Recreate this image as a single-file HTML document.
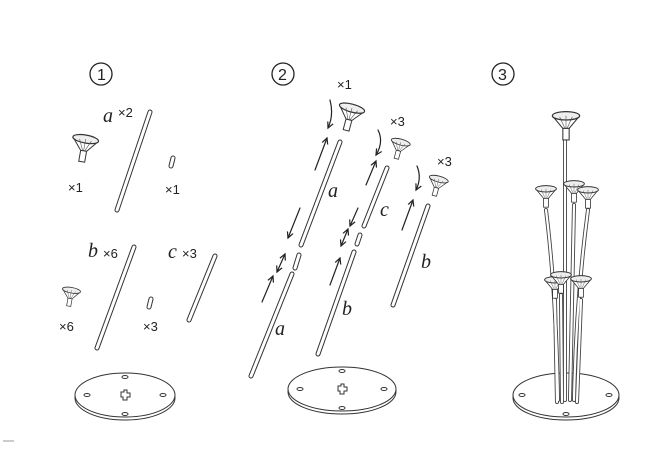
<!DOCTYPE html>
<html><head><meta charset="utf-8"><style>
html,body{margin:0;padding:0;background:#fff}
svg{display:block}
text{font-family:"Liberation Sans",sans-serif;fill:#222}
.h{font-family:"Liberation Serif",serif;font-style:italic;font-size:20px}
.x{font-size:13px}
</style></head><body>
<svg width="664" height="464" viewBox="0 0 664 464" xmlns="http://www.w3.org/2000/svg">
<defs>
<g id="cup">
<path d="M-13,-4 L-3,8 L3,8 L13,-4" fill="#fff" stroke="#333" stroke-width="1"/>
<ellipse cx="0" cy="-4" rx="13" ry="4" fill="#eee" stroke="#333" stroke-width="1.2"/>
<line x1="0" y1="-4" x2="0" y2="8" stroke="#555" stroke-width="0.6"/>
<line x1="-6" y1="-3" x2="-1" y2="8" stroke="#555" stroke-width="0.6"/>
<line x1="6" y1="-3" x2="1" y2="8" stroke="#555" stroke-width="0.6"/>
<rect x="-3" y="8" width="6" height="11" fill="#fff" stroke="#333" stroke-width="1"/>
</g>
<marker id="ar" markerWidth="8" markerHeight="8" refX="6" refY="4" orient="auto" markerUnits="userSpaceOnUse"><path d="M0,1 L6,4 L0,7" fill="none" stroke="#222" stroke-width="1.2"/></marker>
<marker id="as" markerWidth="8" markerHeight="8" refX="2" refY="4" orient="auto" markerUnits="userSpaceOnUse"><path d="M8,1 L2,4 L8,7" fill="none" stroke="#222" stroke-width="1.2"/></marker>
</defs>
<g fill="none" stroke-linecap="round">
<g stroke="#333" stroke-width="5">
<path d="M150,112 L117,210"/><path d="M173,158 L171,166"/>
<path d="M134,247 L97,348"/><path d="M215,256 L189,320"/><path d="M151,299 L149,307"/>
<path d="M340,142 L301,245"/><path d="M299,255 L295,268"/><path d="M292,274 L251,376"/>
<path d="M387,168 L364,226"/><path d="M360,235 L357,244"/><path d="M354,252 L318,354"/>
<path d="M428,206 L393,305"/>
</g>
<g stroke="#fff" stroke-width="3">
<path d="M150,112 L117,210"/><path d="M173,158 L171,166"/>
<path d="M134,247 L97,348"/><path d="M215,256 L189,320"/><path d="M151,299 L149,307"/>
<path d="M340,142 L301,245"/><path d="M299,255 L295,268"/><path d="M292,274 L251,376"/>
<path d="M387,168 L364,226"/><path d="M360,235 L357,244"/><path d="M354,252 L318,354"/>
<path d="M428,206 L393,305"/>
</g>
<g stroke="#222" stroke-width="1.3">
<circle cx="101" cy="74" r="11"/><circle cx="283" cy="74" r="11"/><circle cx="503" cy="74" r="11"/>
</g>
<g stroke="#222" stroke-width="1.2">
<path d="M330,100 Q334,115 328,128" marker-end="url(#ar)"/>
<path d="M315,170 L327,138" marker-end="url(#ar)"/>
<path d="M300,208 L288,238" marker-end="url(#ar)"/>
<path d="M285,254 L277,272" marker-start="url(#as)" marker-end="url(#ar)"/>
<path d="M262,302 L273,276" marker-end="url(#ar)"/>
<path d="M378,130 Q384,142 376,155" marker-end="url(#ar)"/>
<path d="M366,185 L376,161" marker-end="url(#ar)"/>
<path d="M358,208 L350,226" marker-end="url(#ar)"/>
<path d="M348,229 L341,246" marker-start="url(#as)" marker-end="url(#ar)"/>
<path d="M330,285 L340,258" marker-end="url(#ar)"/>
<path d="M417,166 Q422,178 416,190" marker-end="url(#ar)"/>
<path d="M402,230 L413,200" marker-end="url(#ar)"/>
</g>
<g stroke="#333" stroke-width="1">
<ellipse cx="125" cy="398" rx="50" ry="22" fill="#fff"/><ellipse cx="125" cy="395" rx="50" ry="22" fill="#fff"/>
<ellipse cx="342" cy="392" rx="54" ry="22" fill="#fff"/><ellipse cx="342" cy="389" rx="54" ry="22" fill="#fff"/>
<ellipse cx="566" cy="398" rx="53" ry="22" fill="#fff"/><ellipse cx="566" cy="395" rx="53" ry="22" fill="#fff"/>
<ellipse cx="125" cy="377" rx="3" ry="1.5"/><ellipse cx="125" cy="414" rx="3" ry="1.5"/><ellipse cx="87" cy="395" rx="3" ry="1.5"/><ellipse cx="163" cy="395" rx="3" ry="1.5"/>
<path d="M121,392 h3 v-2 h3 v3 h3 v4 h-3 v3 h-4 v-3 h-2z"/>
<ellipse cx="342" cy="371" rx="3" ry="1.5"/><ellipse cx="342" cy="408" rx="3" ry="1.5"/><ellipse cx="300" cy="389" rx="3" ry="1.5"/><ellipse cx="384" cy="389" rx="3" ry="1.5"/>
<path d="M338,386 h3 v-2 h3 v3 h3 v4 h-3 v3 h-4 v-3 h-2z"/>
<ellipse cx="522" cy="395" rx="3" ry="1.5"/><ellipse cx="609" cy="395" rx="3" ry="1.5"/><ellipse cx="566" cy="414" rx="3" ry="1.5"/>
</g>
<g stroke="#444" stroke-width="4">
<path d="M565,135 L565,400"/>
<path d="M546,210 Q556,290 558,400"/><path d="M574,205 L570,400"/><path d="M588,210 Q576,300 574,400"/>
<path d="M555,300 L557,402"/><path d="M581,300 L577,402"/><path d="M561,295 L562,402"/>
</g>
<g stroke="#fff" stroke-width="2.2">
<path d="M565,135 L565,400"/>
<path d="M546,210 Q556,290 558,400"/><path d="M574,205 L570,400"/><path d="M588,210 Q576,300 574,400"/>
<path d="M555,300 L557,402"/><path d="M581,300 L577,402"/><path d="M561,295 L562,402"/>
</g>
</g>
<use href="#cup" transform="translate(85,143) rotate(10)"/>
<use href="#cup" transform="translate(71,293) scale(0.7) rotate(10)"/>
<use href="#cup" transform="translate(351,112) rotate(15)"/>
<use href="#cup" transform="translate(400,145) scale(0.75) rotate(15)"/>
<use href="#cup" transform="translate(438,182) scale(0.75) rotate(15)"/>
<use href="#cup" transform="translate(566,120) scale(1.05)"/>
<use href="#cup" transform="translate(546,192) scale(0.8)"/>
<use href="#cup" transform="translate(574,187) scale(0.8)"/>
<use href="#cup" transform="translate(588,193) scale(0.8)"/>
<use href="#cup" transform="translate(555,283) scale(0.8)"/>
<use href="#cup" transform="translate(581,282) scale(0.8)"/>
<use href="#cup" transform="translate(561,278) scale(0.8)"/>
<text x="97" y="80" font-size="16">1</text>
<text x="278" y="80" font-size="16">2</text>
<text x="498" y="80" font-size="16">3</text>
<text class="h" x="103" y="122">a</text><text class="x" x="118" y="117">×2</text>
<text class="x" x="68" y="192">×1</text><text class="x" x="165" y="194">×1</text>
<text class="h" x="88" y="257">b</text><text class="x" x="103" y="258">×6</text>
<text class="h" x="168" y="258">c</text><text class="x" x="182" y="258">×3</text>
<text class="x" x="59" y="331">×6</text><text class="x" x="143" y="331">×3</text>
<text class="x" x="337" y="89">×1</text><text class="x" x="390" y="126">×3</text>
<text class="x" x="437" y="166">×3</text>
<text class="h" x="328" y="197">a</text><text class="h" x="380" y="216">c</text>
<text class="h" x="421" y="268">b</text><text class="h" x="275" y="335">a</text>
<text class="h" x="342" y="315">b</text>
<line x1="3" y1="441" x2="14" y2="441" stroke="#999" stroke-width="1"/>
</svg>
</body></html>
